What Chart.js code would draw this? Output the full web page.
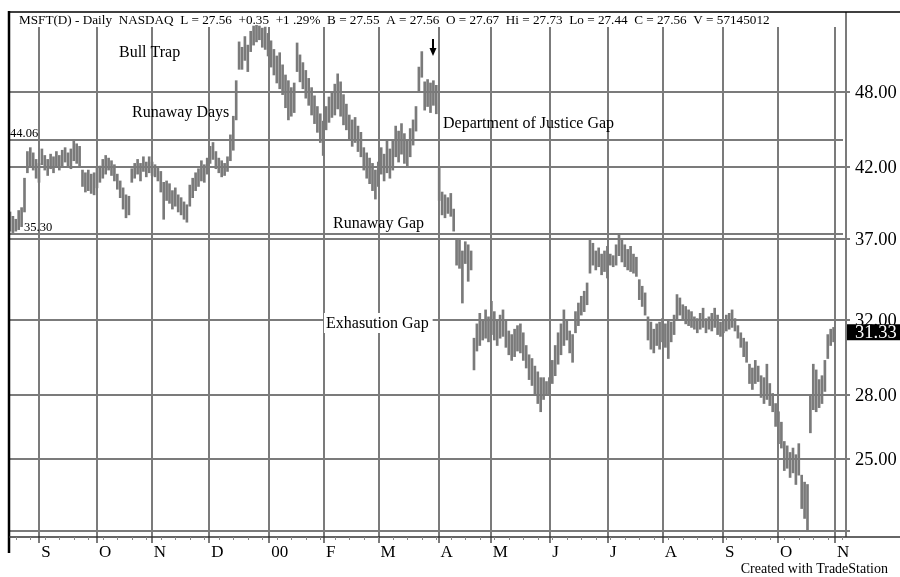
<!DOCTYPE html>
<html>
<head>
<meta charset="utf-8">
<script src="https://cdn.jsdelivr.net/npm/chart.js@4"></script>
<style>
  html, body { margin: 0; padding: 0; background: #fff; }
  #wrap { width: 900px; height: 577px; position: relative; }
</style>
</head>
<body>
<div id="wrap"><canvas id="chart"></canvas></div>
<script>
// daily bars, MSFT Aug 1999 - Oct 2000
const highs = [
  38.8, 38.5, 38.3, 38.9, 39.1, 41.2, 43.2, 43.5, 43.1, 42.6,
  42.3, 43.4, 42.9, 42.6, 43.0, 42.8, 43.2, 42.9, 43.3, 43.5,
  43.1, 43.4, 44.1, 43.8, 43.6, 41.8, 41.6, 41.8, 41.5, 41.6,
  42.0, 42.1, 42.6, 42.9, 42.7, 42.5, 42.2, 41.5, 41.0, 40.5,
  40.0, 39.9, 41.9, 42.3, 42.6, 42.3, 42.8, 42.4, 42.8, 42.4,
  42.2, 42.0, 41.7, 40.9, 41.0, 40.8, 40.3, 40.5, 40.0, 39.8,
  39.5, 39.3, 40.7, 41.2, 41.6, 41.9, 42.5, 42.2, 42.7, 43.6,
  43.9, 43.2, 42.7, 42.5, 42.3, 42.8, 44.5, 46.0, 49.0, 52.5,
  52.0, 53.0, 52.2, 53.5, 54.0, 54.3, 54.0, 53.8, 53.9, 53.3,
  52.6, 51.8, 51.2, 51.5, 50.4, 49.5, 49.0, 48.4, 48.8, 52.4,
  51.3, 50.6, 49.9, 49.2, 48.4, 47.7, 46.8, 46.2, 45.6, 46.8,
  47.6, 48.0, 48.7, 49.6, 48.9, 47.8, 47.0, 46.1, 45.7, 45.9,
  45.2, 44.7, 43.5, 43.1, 42.7, 42.3, 41.8, 42.4, 43.5, 43.0,
  44.0, 43.4, 44.0, 45.2, 44.8, 45.4, 44.6, 44.1, 45.0, 45.7,
  46.8, 50.2, 51.6, 48.9, 49.1, 48.8, 49.0, 48.6, 42.0, 40.2,
  40.0, 39.8, 40.1, 39.0, 37.0, 36.9, 36.2, 36.8, 36.6, 36.2,
  31.0, 31.8, 32.4, 32.0, 32.6, 32.2, 33.1, 32.5, 32.0, 32.3,
  32.6, 32.0, 31.4, 31.2, 31.5, 31.7, 31.8, 31.3, 30.6, 30.1,
  29.9, 29.5, 29.2, 28.9, 28.9, 28.7, 28.9, 29.8, 30.6, 31.3,
  31.8, 32.6, 32.0, 31.4, 31.2, 32.5, 33.0, 33.4, 33.7, 34.2,
  37.0, 36.7, 36.2, 36.4, 36.0, 36.2, 36.5, 36.0, 35.9, 36.6,
  37.3, 36.9, 36.6, 36.3, 36.5, 36.0, 35.8, 34.4, 34.0, 33.6,
  32.2, 31.9, 31.5, 31.8, 31.9, 32.1, 31.8, 32.0, 31.9, 32.3,
  33.5, 33.3, 32.9, 32.8, 32.6, 32.5, 32.2, 32.1, 32.4, 32.7,
  32.1, 32.2, 32.4, 32.7, 32.3, 31.9, 32.0, 32.3, 32.4, 32.6,
  32.1, 31.7, 31.3, 31.0, 30.8, 29.6, 29.4, 29.8, 29.5, 29.0,
  28.9, 29.6, 28.6, 28.1, 27.6, 27.2, 26.7, 25.8, 25.6, 25.3,
  25.5, 25.2, 25.7, 24.3, 24.0, 23.9, 28.0, 29.6, 29.3, 28.8,
  29.0, 29.8, 31.2, 31.5, 31.6
];
const lows = [
  37.5, 37.4, 37.5, 37.6, 37.8, 38.8, 41.6, 42.1, 41.8, 41.2,
  40.9, 42.2, 41.8, 41.4, 41.9, 41.6, 42.0, 41.8, 42.1, 42.4,
  42.0, 41.9, 42.5, 42.3, 42.0, 40.6, 40.2, 40.3, 40.1, 40.0,
  40.5, 40.9, 41.2, 41.5, 41.8, 41.4, 41.0, 40.4, 39.8, 39.0,
  38.4, 38.6, 40.9, 41.2, 41.5, 41.0, 41.7, 41.3, 41.6, 41.4,
  41.3, 41.0, 40.2, 38.3, 39.6, 39.4, 39.0, 39.2, 38.8, 38.6,
  38.3, 38.1, 39.2, 39.8, 40.3, 40.6, 41.0, 40.9, 41.5, 42.3,
  42.6, 41.9, 41.6, 41.3, 41.4, 41.7, 42.5, 43.3, 45.7, 50.0,
  50.0, 50.8, 49.8, 51.6, 52.2, 52.5, 52.7, 52.0, 51.8, 51.2,
  50.2, 49.5, 48.8, 48.3, 47.8, 46.7, 45.7, 46.0, 46.3, 49.8,
  48.9, 48.3, 47.5, 46.9, 46.1, 45.4, 44.7, 43.9, 42.9, 44.9,
  45.5, 45.9, 46.1, 46.6, 46.0, 45.3, 44.9, 44.2, 43.6, 43.9,
  43.2, 42.8, 41.8, 41.2, 40.8, 40.3, 39.7, 40.6, 41.5, 41.0,
  41.6, 41.2, 41.8, 42.8, 42.4, 43.0, 42.3, 42.0, 42.8, 43.7,
  44.8, 48.0, 49.3, 46.5, 46.8, 46.3, 46.9, 46.2, 39.6, 38.6,
  38.4, 38.7, 38.5, 37.5, 35.3, 35.1, 33.0, 35.4, 34.3, 35.0,
  29.3, 30.3, 30.6, 30.9, 31.0, 30.8, 31.2, 30.9, 30.6, 31.0,
  31.1, 30.5, 30.1, 29.8, 30.0, 30.3, 30.2, 29.8, 29.4, 28.8,
  28.5, 28.0, 27.6, 27.2, 27.8, 28.0, 28.0, 28.6, 29.0, 29.6,
  30.1, 30.6, 30.9, 30.2, 29.7, 31.3, 31.7, 32.3, 32.5, 32.9,
  34.8, 35.3, 35.0, 35.2, 34.7, 34.9, 34.5, 35.3, 35.2, 35.3,
  35.9, 35.5, 35.2, 35.0, 34.9, 34.8, 34.6, 33.2, 32.8, 32.3,
  30.9, 30.4, 30.2, 30.6, 30.4, 30.8, 30.5, 29.9, 30.8, 31.2,
  32.0, 32.3, 32.0, 31.8, 31.7, 31.6, 31.5, 31.3, 31.5, 31.6,
  31.3, 31.5, 31.4, 31.6, 31.2, 31.1, 31.3, 31.4, 31.5, 31.6,
  31.4, 31.0, 30.5, 30.0, 29.7, 28.6, 28.3, 28.6, 28.7, 27.9,
  27.6, 27.8, 27.5, 27.2, 26.5, 25.7, 25.5, 24.5, 24.6, 24.2,
  24.4, 23.9, 24.3, 22.9, 22.5, 22.0, 26.2, 27.3, 27.2, 27.4,
  27.6, 28.2, 29.9, 30.6, 30.8
];

// bar index where each month starts, and its label
const monthStarts = [10.1, 30.0, 48.9, 68.7, 89.4, 108.3, 127.1, 147.8, 165.8, 186.3, 206.2, 225.1, 245.9, 264.8, 284.5];
const monthLabels = ['S', 'O', 'N', 'D', '00', 'F', 'M', 'A', 'M', 'J', 'J', 'A', 'S', 'O', 'N'];

// price grid
const priceTicks = [48, 42, 37, 32, 28, 25, 22];
const priceLabels = ['48.00', '42.00', '37.00', '32.00', '28.00', '25.00', ''];

// user drawn levels
const levelValues = [44.06, 37.3];
const levelLabels = ['44.06', '35.30'];

const lastClose = 31.33;
const headerText = 'MSFT(D) - Daily  NASDAQ  L = 27.56  +0.35  +1 .29%  B = 27.55  A = 27.56  O = 27.67  Hi = 27.73  Lo = 27.44  C = 27.56  V = 57145012';

const SERIF = '"Liberation Serif", "DejaVu Serif", serif';
const GRID = '#7b7b7b';

const bars = highs.map((h, i) => ({ x: i, y: [lows[i], h] }));

// gridlines, frame and texts
const decor = {
    id: 'decor',
    beforeDatasetsDraw(chart) {
        const ctx = chart.ctx;
        const a = chart.chartArea;
        const xs = chart.scales.x, ys = chart.scales.y;
        ctx.save();
        ctx.strokeStyle = GRID;
        ctx.lineWidth = 2;
        // horizontal price lines
        priceTicks.forEach(v => {
            const y = Math.round(ys.getPixelForValue(v));
            ctx.beginPath(); ctx.moveTo(9, y); ctx.lineTo(a.right + 4, y); ctx.stroke();
        });
        levelValues.forEach(v => {
            const y = Math.round(ys.getPixelForValue(v));
            ctx.beginPath(); ctx.moveTo(9, y); ctx.lineTo(a.right - 3, y); ctx.stroke();
        });
        // month lines
        monthStarts.forEach(v => {
            const x = Math.round(xs.getPixelForValue(v));
            ctx.beginPath(); ctx.moveTo(x, 27); ctx.lineTo(x, a.bottom + 6); ctx.stroke();
        });
        // right edge
        ctx.beginPath(); ctx.moveTo(a.right, 12); ctx.lineTo(a.right, a.bottom); ctx.stroke();
        ctx.restore();
    },
    afterDraw(chart) {
        const ctx = chart.ctx;
        const a = chart.chartArea;
        const xs = chart.scales.x, ys = chart.scales.y;
        ctx.save();

        // frame
        ctx.strokeStyle = '#000';
        ctx.lineWidth = 2.5;
        ctx.beginPath(); ctx.moveTo(9, 11); ctx.lineTo(9, 553); ctx.stroke();
        ctx.lineWidth = 1.5;
        ctx.beginPath(); ctx.moveTo(9, 12); ctx.lineTo(900, 12); ctx.stroke();
        ctx.strokeStyle = '#333';
        ctx.beginPath(); ctx.moveTo(9, a.bottom); ctx.lineTo(900, a.bottom); ctx.stroke();

        // weekly ticks under the axis
        ctx.strokeStyle = '#888';
        ctx.lineWidth = 1;
        for (let i = 2; i < 289; i += 5) {
            const x = Math.round(xs.getPixelForValue(i)) + 0.5;
            ctx.beginPath(); ctx.moveTo(x, a.bottom); ctx.lineTo(x, a.bottom + 3); ctx.stroke();
        }

        ctx.fillStyle = '#000';
        ctx.textBaseline = 'alphabetic';

        // header
        ctx.font = '13px ' + SERIF;
        const w = ctx.measureText(headerText).width;
        const size = 13 * 751 / w;
        ctx.font = size.toFixed(2) + 'px ' + SERIF;
        ctx.textAlign = 'left';
        ctx.fillText(headerText, 19, 24);

        // month labels
        ctx.font = '17px ' + SERIF;
        monthStarts.forEach((v, i) => {
            const x = xs.getPixelForValue(v);
            ctx.fillText(monthLabels[i], x + 2, a.bottom + 20);
        });

        // price labels
        ctx.font = '18.5px ' + SERIF;
        priceTicks.forEach((v, i) => {
            if (!priceLabels[i]) return;
            const y = ys.getPixelForValue(v);
            ctx.fillText(priceLabels[i], a.right + 9, y + 6);
        });

        // last close box
        const yc = ys.getPixelForValue(lastClose);
        ctx.fillStyle = '#000';
        ctx.fillRect(a.right + 1, yc - 8, 900 - a.right, 16);
        ctx.fillStyle = '#fff';
        ctx.fillText(lastClose.toFixed(2), a.right + 9, yc + 6);

        // level labels
        ctx.fillStyle = '#000';
        ctx.font = '12.5px ' + SERIF;
        ctx.fillText(levelLabels[0], 10, ys.getPixelForValue(levelValues[0]) - 3);
        ctx.fillText(levelLabels[1], 24, ys.getPixelForValue(levelValues[1]) - 3);

        // annotations
        ctx.font = '16px ' + SERIF;
        ctx.fillText('Bull Trap', 119, 57);
        ctx.fillText('Runaway Days', 132, 117);
        ctx.fillText('Department of Justice Gap', 443, 128);
        ctx.fillText('Runaway Gap', 333, 228);
        const ex = 'Exhasution Gap';
        const exw = ctx.measureText(ex).width;
        ctx.fillStyle = '#fff';
        ctx.fillRect(324, 313, exw + 6, 20);
        ctx.fillStyle = '#000';
        ctx.fillText(ex, 326, 328);

        // arrow over the April top
        ctx.strokeStyle = '#000';
        ctx.lineWidth = 2;
        ctx.beginPath(); ctx.moveTo(433, 39); ctx.lineTo(433, 50); ctx.stroke();
        ctx.beginPath();
        ctx.moveTo(429.5, 48); ctx.lineTo(436.5, 48); ctx.lineTo(433, 56); ctx.closePath();
        ctx.fill();

        // footer
        ctx.font = '14px ' + SERIF;
        ctx.textAlign = 'right';
        ctx.fillText('Created with TradeStation', 888, 573);
        ctx.restore();
    }
};

new Chart(document.getElementById('chart'), {
    type: 'bar',
    data: {
        datasets: [{
            data: bars,
            backgroundColor: '#7a7a7a',
            borderWidth: 0,
            barThickness: 2
        }]
    },
    options: {
        responsive: true,
        maintainAspectRatio: false,
        animation: false,
        layout: { padding: { left: 9, top: 25, right: 54, bottom: 40 } },
        plugins: { legend: { display: false }, tooltip: { enabled: false } },
        scales: {
            x: { type: 'linear', display: false, min: -0.345, max: 288.28, offset: false },
            y: { type: 'logarithmic', display: false, min: 21.77, max: 54.1 }
        }
    },
    plugins: [decor]
});
</script>
</body>
</html>
